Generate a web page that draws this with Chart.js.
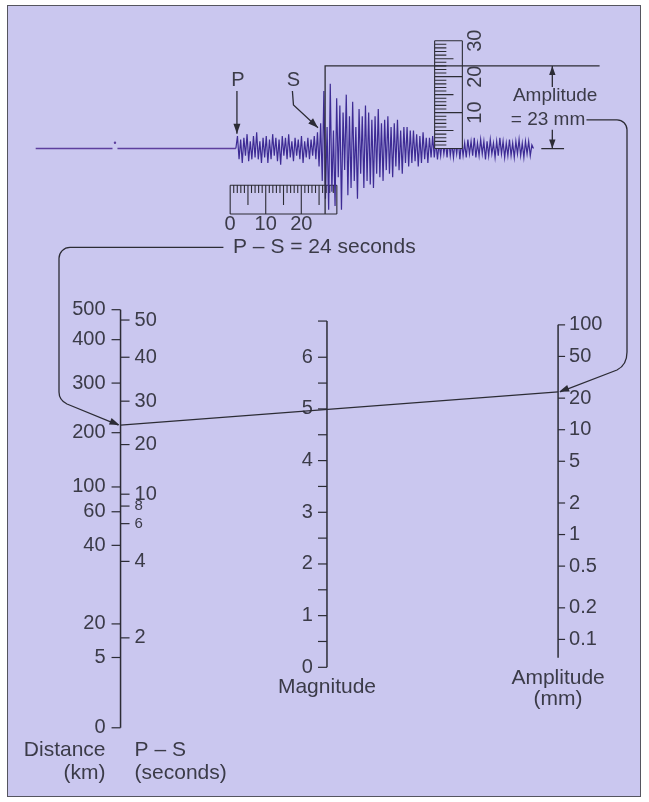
<!DOCTYPE html>
<html>
<head>
<meta charset="utf-8">
<title>Richter nomogram</title>
<script src="https://cdn.jsdelivr.net/npm/chart.js@4.4.1/dist/chart.umd.min.js"></script>
<style>
  html, body { margin: 0; padding: 0; background: #ffffff; }
  #wrap { position: relative; width: 649px; height: 802px; }
  #panel {
    position: absolute; left: 7px; top: 5px; width: 634px; height: 792px;
    box-sizing: border-box; background: #cac7ef; border: 1.5px solid #55555f;
  }
  #chart { position: absolute; left: 0; top: 0; }
</style>
</head>
<body>
<div id="wrap">
  <div id="panel"></div>
  <canvas id="chart" width="649" height="802"></canvas>
</div>
<script>
const BG = "#cac7ef";
const INK = "#2c2c35";
const TEXT = "#3b3b48";
const TRACE = "#3d2b94";
const BASE = "#5e3f9e";
const FONT = "'Liberation Sans', Arial, sans-serif";

// ---- seismogram (seconds on x, mm on y) ----
const baselineFrom = -54.7;
const baselineGap = [-33.1, -31.7];
const traceStart = 1.6;
const traceStep = 0.45;
const traceMm = [
  // P arrival and P coda
  3.5, -3, 2.5, -4, 3, -2, 4, -3.5, 2, -3, 3.5, -2.5, 4.5, -3, 2, -4, 3, -2.5, 3.5, -4,
  2.5, -3, 4, -2, 3, -3.5, 2.5, -4.5, 3.5, -2, 3, -3, 4, -2.5, 2, -3.5, 3, -2, 2.5, -3,
  3.5, -4, 2, -2.5, 3, -3, 2.5, -2, 3.5, -3, 4.5,
  // S arrival
  -5, 7, -9, 16, -14, 6, -17, 18, -12, 5, -16, 14, -8, 12, -17, 10, -6, 15, -13, 9,
  -11, 13, -9, 6, -14, 11, -7, 9,
  // surface waves
  -11, 12, -9, 10, -10, 8, -11, 9, -7, 11, -8, 7, -9, 8, -6, 9, -7, 6, -8, 7,
  -5, 8, -6, 5, -7, 6, -4, 6, -5, 5, -4, 5, -3.5, 4, -5, 3.5, -4, 4.5, -3, 3,
  -4, 3, -2.5, 3.5,
  // tail
  -2.5, 2, -3, 1.5, -2, 2.5, -1.5, 2, -2.5, 3, -2, 1.5, -2.5, 2, -1.5, 2.5, -3, 2, -2, 1.5,
  -2.5, 2.5, -1.5, 2, -2, 3, -2.5, 1.5, -2, 2.5, -1.5, 2, -3, 2, -2, 2.5, -1.5, 1.5, -2.5, 2,
  -2, 3, -1.5, 2, -2.5, 1.5, -2, 2.5, -2, 1.5, -2.5, 2, -1.5, 2.5, -2, 1.5, -2.5, 2, -1.5, 2,
  -2, 1, 0
];
const pArrival = 1.9;
const sArrival = 24.7;
const psReading = 24;      // seconds
const ampReading = 23;     // mm
const ampLineT = 26.7;     // where the reading line drops to the time ruler
const rulerSeconds = [0, 30];
const rulerSecondLabels = [0, 10, 20];
const rulerMm = [0, 30];
const rulerMmLabels = [10, 20, 30];

// ---- nomogram ----
// distance and P-S scales are not uniform: each label sits at a level
// measured in magnitude units along the shared vertical
const distanceKm = [500, 400, 300, 200, 100, 60, 40, 20, 5, 0];
const distanceLevel = [6.92, 6.34, 5.50, 4.54, 3.49, 3.01, 2.36, 0.84, 0.19, -1.17];
const psSeconds = [50, 40, 30, 20, 10, 8, 6, 4, 2];
const psLevel = [6.72, 6.00, 5.15, 4.31, 3.35, 3.12, 2.78, 2.05, 0.57];
const magnitudeTicks = [0, 1, 2, 3, 4, 5, 6];
const magnitudeMinor = [0.5, 1.5, 2.5, 3.5, 4.5, 5.5];
const magnitudeTop = 6.7;
const amplitudeTicks = [100, 50, 20, 10, 5, 2, 1, 0.5, 0.2, 0.1];
const amplitudeBottom = 0.067;

// ---- layout ----
const W = 649, H = 802;
const T0_PX = 229, PX_PER_S = 3.6;
const MM0_PX = 146, PX_PER_MM = 3.63;
const MAG0_PX = 670, PX_PER_MAG = 52.2;
const AMP1_PX = 535.9, PX_PER_DECADE = 105.9;
const AXIS_X = { dist: 118, mag: 327, amp: 561 };
const TIME_RULER = { top: -10.2, bottom: -18.2, minor: 2.2, mid: 5.5 };
const AMP_RULER = { left: 57.5, right: 65.3, minor: 3.3, mid: 5.3 };

function pts(list) {
  // list of polylines -> one point array with gaps between them
  const out = [];
  list.forEach((line, i) => {
    if (i) out.push({ x: line[0][0], y: null });
    line.forEach(([px, py]) => out.push({ x: px, y: py }));
  });
  return out;
}

function traceData() {
  const out = [{ x: traceStart, y: 0 }];
  traceMm.forEach((v, i) => out.push({ x: traceStart + (i + 1) * traceStep, y: v }));
  return out;
}

function timeRuler() {
  const { top, bottom, minor, mid } = TIME_RULER;
  const [a, b] = rulerSeconds;
  const lines = [[[a, top], [b, top]], [[a, bottom], [b, bottom]]];
  for (let s = a; s <= b; s++) {
    const len = s % 10 === 0 ? top - bottom : s % 5 === 0 ? mid : minor;
    lines.push([[s, top], [s, top - len]]);
  }
  return pts(lines);
}

function ampRuler() {
  const { left, right, minor, mid } = AMP_RULER;
  const [a, b] = rulerMm;
  const lines = [[[left, a], [left, b]], [[right, a], [right, b]]];
  for (let m = a; m <= b; m++) {
    const len = m % 10 === 0 ? right - left : m % 5 === 0 ? mid : minor;
    lines.push([[left, m], [left + len, m]]);
  }
  return pts(lines);
}

const readingLines = pts([
  [[ampLineT, TIME_RULER.bottom], [ampLineT, ampReading], [103.9, ampReading]],
  [[87.5, 0], [93.9, 0]],
  [[90.6, 17.1], [90.6, ampReading]],
  [[90.6, 5.2], [90.6, 0]],
  [[pArrival, 16], [pArrival, 4.1]],
  [[17.5, 16], [17.8, 12.1], [sArrival, 5.8]]
]);

function levelForPs(s) {
  for (let i = 0; i < psSeconds.length - 1; i++) {
    const hi = psSeconds[i], lo = psSeconds[i + 1];
    if (s <= hi && s >= lo) {
      const f = Math.log(s / lo) / Math.log(hi / lo);
      return psLevel[i + 1] + f * (psLevel[i] - psLevel[i + 1]);
    }
  }
  return psLevel[0];
}

function line(ctx, x1, y1, x2, y2) {
  ctx.beginPath();
  ctx.moveTo(x1, y1);
  ctx.lineTo(x2, y2);
  ctx.stroke();
}

function text(ctx, str, x, y, align, size = 20) {
  ctx.font = `${size}px ${FONT}`;
  ctx.textAlign = align;
  ctx.textBaseline = "middle";
  ctx.fillText(str, x, y);
}

function arrowHead(ctx, tx, ty, fx, fy, len = 10, half = 3.5) {
  const a = Math.atan2(ty - fy, tx - fx);
  const c = Math.cos(a), s = Math.sin(a);
  ctx.beginPath();
  ctx.moveTo(tx, ty);
  ctx.lineTo(tx - len * c + half * s, ty - len * s - half * c);
  ctx.lineTo(tx - len * c - half * s, ty - len * s + half * c);
  ctx.closePath();
  ctx.fill();
}

const nomogram = {
  id: "nomogram",
  afterDatasetsDraw(chart) {
    const { ctx } = chart;
    const { x, y, xn, mag, amp } = chart.scales;
    const X = (t) => x.getPixelForValue(t);
    const Y = (m) => y.getPixelForValue(m);
    const M = (v) => mag.getPixelForValue(v);
    const A = (v) => amp.getPixelForValue(v);

    ctx.save();
    ctx.strokeStyle = INK;
    ctx.fillStyle = INK;
    ctx.lineWidth = 1.3;

    // arrowheads on the seismogram
    arrowHead(ctx, X(pArrival), Y(4.1), X(pArrival), Y(16));
    arrowHead(ctx, X(sArrival), Y(5.8), X(17.8), Y(12.1));
    arrowHead(ctx, X(90.6), Y(ampReading), X(90.6), Y(17.1), 9, 3.2);
    arrowHead(ctx, X(90.6), Y(0), X(90.6), Y(5.2), 9, 3.2);

    // seismogram texts
    ctx.fillStyle = TEXT;
    text(ctx, "P", X(2.2), Y(19), "center");
    text(ctx, "S", X(17.8), Y(19), "center");
    rulerSecondLabels.forEach((s) => text(ctx, String(s), X(s), Y(-21.2), "center"));
    rulerMmLabels.forEach((m) => {
      ctx.save();
      ctx.translate(X(68.9), Y(m));
      ctx.rotate(-Math.PI / 2);
      text(ctx, String(m), 0, 0, "center");
      ctx.restore();
    });
    text(ctx, "Amplitude", X(91.4), Y(14.6), "center", 19);
    text(ctx, "= 23 mm", X(89.4), Y(8.0), "center", 19);
    text(ctx, "P \u2013 S = 24 seconds", X(0.8), Y(-27.5), "left", 21);

    // distance / P-S axis
    ctx.fillStyle = INK;
    const dx = xn.getPixelForValue(AXIS_X.dist);
    ctx.lineWidth = 1.5;
    line(ctx, dx, M(distanceLevel[0]), dx, M(distanceLevel[distanceLevel.length - 1]));
    ctx.lineWidth = 1.2;
    ctx.fillStyle = TEXT;
    distanceKm.forEach((km, i) => {
      const py = M(distanceLevel[i]);
      line(ctx, dx - 9, py, dx, py);
      text(ctx, String(km), dx - 15, py, "right");
    });
    psSeconds.forEach((s, i) => {
      const py = M(psLevel[i]);
      line(ctx, dx, py, dx + 9, py);
      text(ctx, String(s), dx + 14, py, "left", s === 8 || s === 6 ? 15 : 20);
    });
    text(ctx, "Distance", dx - 15, 750, "right", 21);
    text(ctx, "(km)", dx - 15, 773, "right", 21);
    text(ctx, "P \u2013 S", dx + 14, 750, "left", 21);
    text(ctx, "(seconds)", dx + 14, 773, "left", 21);

    // magnitude axis
    const mx = xn.getPixelForValue(AXIS_X.mag);
    ctx.lineWidth = 1.5;
    line(ctx, mx, M(0), mx, M(magnitudeTop));
    ctx.lineWidth = 1.2;
    [...magnitudeTicks, ...magnitudeMinor, magnitudeTop].forEach((v) => line(ctx, mx - 9, M(v), mx, M(v)));
    magnitudeTicks.forEach((v) => text(ctx, String(v), mx - 14, M(v), "right"));
    text(ctx, "Magnitude", mx, 687, "center", 21);

    // amplitude axis
    const ax = xn.getPixelForValue(AXIS_X.amp);
    ctx.lineWidth = 1.5;
    line(ctx, ax, A(amplitudeBottom), ax, A(amplitudeTicks[0]));
    ctx.lineWidth = 1.2;
    amplitudeTicks.forEach((v) => {
      line(ctx, ax, A(v), ax + 7, A(v));
      text(ctx, String(v), ax + 11, A(v), "left");
    });
    text(ctx, "Amplitude", ax, 678, "center", 21);
    text(ctx, "(mm)", ax, 699, "center", 21);

    // connectors
    ctx.strokeStyle = INK;
    ctx.fillStyle = INK;
    ctx.lineWidth = 1.3;
    const psTipY = M(levelForPs(psReading));
    const ampTipY = A(ampReading);

    ctx.beginPath();
    ctx.moveTo(X(-1.9), Y(-27.5));
    ctx.lineTo(70, Y(-27.5));
    ctx.arcTo(59, Y(-27.5), 59, Y(-27.5) + 11, 11);
    ctx.lineTo(59, 392);
    ctx.quadraticCurveTo(59, 400, 67, 404);
    ctx.lineTo(dx - 2, psTipY);
    ctx.stroke();
    arrowHead(ctx, dx - 1, psTipY, 67, 404);

    ctx.beginPath();
    ctx.moveTo(X(100.2), Y(8.0));
    ctx.lineTo(617, Y(8.0));
    ctx.arcTo(627, Y(8.0), 627, Y(8.0) + 10, 10);
    ctx.lineTo(627, 352);
    ctx.quadraticCurveTo(627, 365, 617, 370);
    ctx.lineTo(ax + 2, ampTipY);
    ctx.stroke();
    arrowHead(ctx, ax + 1, ampTipY, 617, 370);

    // the reading line through the magnitude scale
    line(ctx, dx, psTipY, ax, ampTipY);
    ctx.restore();
  }
};

new Chart(document.getElementById("chart"), {
  type: "scatter",
  data: {
    datasets: [
      {
        data: timeRuler(), showLine: true, spanGaps: false,
        borderColor: INK, borderWidth: 1.1, pointRadius: 0, order: 5
      },
      {
        data: pts([[[baselineFrom, 0], [baselineGap[0], 0]], [[baselineGap[1], 0], [traceStart, 0]]]),
        showLine: true, spanGaps: false, borderColor: BASE, borderWidth: 1.6, pointRadius: 0, order: 4
      },
      {
        data: [{ x: -32.4, y: 1.6 }],
        pointRadius: 1.2, pointBackgroundColor: BASE, pointBorderWidth: 0, order: 4
      },
      {
        data: traceData(), showLine: true, borderColor: TRACE, borderWidth: 1.2,
        pointRadius: 0, order: 3
      },
      {
        data: [{ x: AMP_RULER.left, y: rulerMm[1] }, { x: AMP_RULER.right, y: rulerMm[1] }],
        showLine: true, borderWidth: 0, pointRadius: 0,
        fill: { value: rulerMm[0] }, backgroundColor: BG, order: 2
      },
      {
        data: ampRuler(), showLine: true, spanGaps: false,
        borderColor: INK, borderWidth: 1.1, pointRadius: 0, order: 1
      },
      {
        data: readingLines, showLine: true, spanGaps: false,
        borderColor: INK, borderWidth: 1.3, pointRadius: 0, order: 1
      }
    ]
  },
  options: {
    responsive: false,
    animation: false,
    events: [],
    layout: { padding: 0 },
    plugins: { legend: { display: false }, tooltip: { enabled: false } },
    scales: {
      x: { type: "linear", display: false, bounds: "data",
           min: -T0_PX / PX_PER_S, max: (W - T0_PX) / PX_PER_S },
      y: { type: "linear", display: false, bounds: "data",
           min: -(H - MM0_PX) / PX_PER_MM, max: MM0_PX / PX_PER_MM },
      xn: { type: "linear", axis: "x", display: false, bounds: "data", min: 0, max: W },
      mag: { type: "linear", axis: "y", display: false, bounds: "data",
             min: -(H - MAG0_PX) / PX_PER_MAG, max: MAG0_PX / PX_PER_MAG },
      amp: { type: "logarithmic", axis: "y", display: false, bounds: "data",
             min: Math.pow(10, (AMP1_PX - H) / PX_PER_DECADE),
             max: Math.pow(10, AMP1_PX / PX_PER_DECADE) }
    }
  },
  plugins: [nomogram]
});
</script>
</body>
</html>
